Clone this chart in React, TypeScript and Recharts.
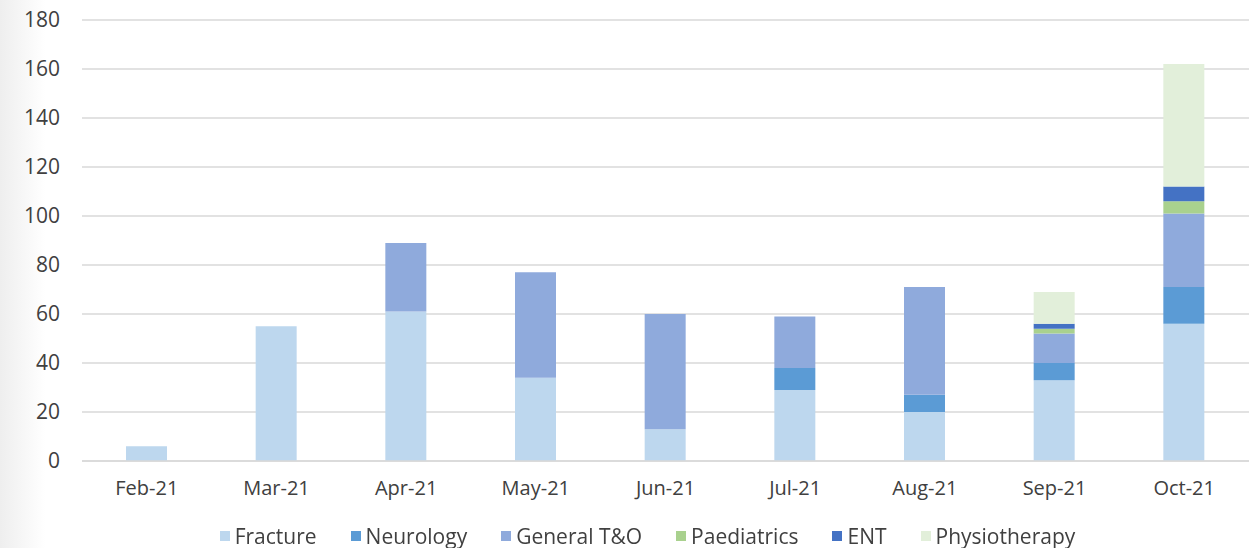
import { Bar, BarChart, CartesianGrid, Legend, XAxis, YAxis } from "recharts";

const months = ["Feb-21", "Mar-21", "Apr-21", "May-21", "Jun-21", "Jul-21", "Aug-21", "Sep-21", "Oct-21"];
const fracture = [6, 55, 61, 34, 13, 29, 20, 33, 56];
const neurology = [0, 0, 0, 0, 0, 9, 7, 7, 15];
const generalTO = [0, 0, 28, 43, 47, 21, 44, 12, 30];
const paediatrics = [0, 0, 0, 0, 0, 0, 0, 2, 5];
const ent = [0, 0, 0, 0, 0, 0, 0, 2, 6];
const physiotherapy = [0, 0, 0, 0, 0, 0, 0, 13, 50];
const yTicks = [0, 20, 40, 60, 80, 100, 120, 140, 160, 180];

const series = [
  { key: "fracture", name: "Fracture", color: "#BDD7EE" },
  { key: "neurology", name: "Neurology", color: "#5B9BD5" },
  { key: "generalTO", name: "General T&O", color: "#8FAADC" },
  { key: "paediatrics", name: "Paediatrics", color: "#A9D18E" },
  { key: "ent", name: "ENT", color: "#4472C4" },
  { key: "physiotherapy", name: "Physiotherapy", color: "#E2EFDA" },
];

const data = months.map((month, i) => ({
  month,
  fracture: fracture[i],
  neurology: neurology[i],
  generalTO: generalTO[i],
  paediatrics: paediatrics[i],
  ent: ent[i],
  physiotherapy: physiotherapy[i],
}));

const font = "'Open Sans', sans-serif";

function LegendRow() {
  return (
    <div
      style={{
        display: "flex",
        justifyContent: "center",
        gap: 34,
        fontFamily: font,
        fontSize: 21,
        lineHeight: "24px",
        color: "#404040",
        paddingTop: 14,
        marginLeft: 46,
      }}
    >
      {series.map((s) => (
        <span key={s.key} style={{ display: "flex", alignItems: "center" }}>
          <span style={{ width: 10, height: 10, background: s.color, marginRight: 5, display: "inline-block" }} />
          {s.name}
        </span>
      ))}
    </div>
  );
}

export default function App() {
  return (
    <div
      style={{
        position: "fixed",
        left: 0,
        top: 0,
        width: 1258,
        height: 548,
        background: "linear-gradient(to right, #eeeeee 0px, #ffffff 45px)",
      }}
    >
      <BarChart
        width={1258}
        height={548}
        data={data}
        barSize={41}
        margin={{ top: 20, right: 9, bottom: 0, left: 0 }}
      >
        <CartesianGrid vertical={false} stroke="#d9d9d9" strokeWidth={1.5} />
        <XAxis
          dataKey="month"
          tickLine={false}
          axisLine={{ stroke: "#d9d9d9", strokeWidth: 1.5 }}
          tick={{ fill: "#404040", fontSize: 20, fontFamily: font }}
          tickMargin={14}
          height={49}
        />
        <YAxis
          domain={[0, 180]}
          ticks={yTicks}
          width={82}
          tickLine={false}
          axisLine={false}
          tick={{ fill: "#404040", fontSize: 21, fontFamily: font }}
          tickMargin={16}
        />
        <Legend verticalAlign="bottom" height={38} content={() => <LegendRow />} />
        {series.map((s) => (
          <Bar
            key={s.key}
            dataKey={s.key}
            name={s.name}
            stackId="a"
            fill={s.color}
            isAnimationActive={false}
          />
        ))}
      </BarChart>
    </div>
  );
}
